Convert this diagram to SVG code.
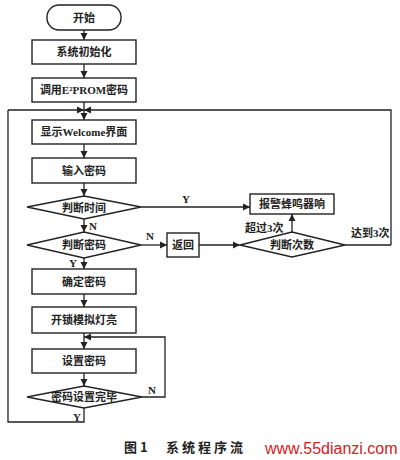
<svg xmlns="http://www.w3.org/2000/svg" width="400" height="460" viewBox="0 0 400 460">
<defs>
<marker id="ah" markerWidth="8" markerHeight="8" refX="7" refY="4" orient="auto" markerUnits="userSpaceOnUse">
<path d="M0,0.5 L7,4 L0,7.5 Z" fill="#222"/>
</marker>
<style>
.n{fill:#fff;stroke:#222;stroke-width:1.4}
.t{font-family:"Liberation Serif","Noto Sans CJK SC",serif;font-size:11px;font-weight:bold;fill:#222;text-anchor:middle;dominant-baseline:central}
.l{font-family:"Liberation Serif","Noto Sans CJK SC",serif;font-size:11px;font-weight:bold;fill:#222}
.c{fill:none;stroke:#222;stroke-width:1.3}
</style>
</defs>
<rect width="400" height="460" fill="#fff"/>
<g id="connectors">
<path class="c" d="M84,30 V40" marker-end="url(#ah)"/>
<path class="c" d="M84,64 V78" marker-end="url(#ah)"/>
<path class="c" d="M84,102 V120" marker-end="url(#ah)"/>
<path class="c" d="M8,110 H84" marker-end="url(#ah)"/>
<path class="c" d="M391,245 V110 H84" marker-end="url(#ah)"/>
<path class="c" d="M84,144 V158" marker-end="url(#ah)"/>
<path class="c" d="M84,183 V196" marker-end="url(#ah)"/>
<path class="c" d="M141,207 H250" marker-end="url(#ah)"/>
<path class="c" d="M84,219 V232" marker-end="url(#ah)"/>
<path class="c" d="M141,245 H167" marker-end="url(#ah)"/>
<path class="c" d="M199,245 H240" marker-end="url(#ah)"/>
<path class="c" d="M292,232 V214" marker-end="url(#ah)"/>
<path class="c" d="M345,245 H391"/>
<path class="c" d="M84,258 V269" marker-end="url(#ah)"/>
<path class="c" d="M84,294 V307" marker-end="url(#ah)"/>
<path class="c" d="M84,333 V349" marker-end="url(#ah)"/>
<path class="c" d="M142,397 H165 V337 H84" marker-end="url(#ah)"/>
<path class="c" d="M84,373 V386" marker-end="url(#ah)"/>
<path class="c" d="M84,408 V422 H8 V110"/>
<text class="l" x="182" y="203">Y</text>
<text class="l" x="89" y="230">N</text>
<text class="l" x="146" y="240">N</text>
<text class="l" x="69" y="267">Y</text>
<text class="l" x="245" y="232">超过3次</text>
<text class="l" x="351" y="237">达到3次</text>
<text class="l" x="148" y="394">N</text>
<text class="l" x="73" y="421">Y</text>
</g>
<g id="start"><rect class="n" x="47" y="5" width="74" height="25" rx="12"/><text class="t" x="84" y="17.5">开始</text></g>
<g id="init"><rect class="n" x="32" y="40" width="104" height="24"/><text class="t" x="84" y="52">系统初始化</text></g>
<g id="eeprom"><rect class="n" x="32" y="78" width="104" height="24"/><text class="t" x="84" y="90">调用E²PROM密码</text></g>
<g id="welcome"><rect class="n" x="32" y="120" width="104" height="24"/><text class="t" x="84" y="132">显示Welcome界面</text></g>
<g id="input"><rect class="n" x="32" y="158" width="104" height="25"/><text class="t" x="84" y="170.5">输入密码</text></g>
<g id="judgeTime"><polygon class="n" points="27,207 84,196 141,207 84,219"/><text class="t" x="84" y="207.5">判断时间</text></g>
<g id="judgePwd"><polygon class="n" points="27,245 84,232 141,245 84,258"/><text class="t" x="84" y="245">判断密码</text></g>
<g id="return"><rect class="n" x="167" y="233" width="32" height="24"/><text class="t" x="183" y="245">返回</text></g>
<g id="alarm"><rect class="n" x="250" y="194" width="84" height="20"/><text class="t" x="292" y="204">报警蜂鸣器响</text></g>
<g id="judgeCount"><polygon class="n" points="240,245 292,232 345,245 292,257"/><text class="t" x="292" y="245">判断次数</text></g>
<g id="confirm"><rect class="n" x="32" y="269" width="104" height="25"/><text class="t" x="84" y="281.5">确定密码</text></g>
<g id="unlock"><rect class="n" x="32" y="307" width="104" height="26"/><text class="t" x="84" y="320">开锁模拟灯亮</text></g>
<g id="setPwd"><rect class="n" x="32" y="349" width="104" height="24"/><text class="t" x="84" y="361">设置密码</text></g>
<g id="setDone"><polygon class="n" points="27,397 84,386 142,397 84,408"/><text class="t" x="84" y="397">密码设置完毕</text></g>
<text x="124" y="452" font-family="'Noto Sans CJK SC',sans-serif" font-size="13" font-weight="bold" fill="#222">图 1</text>
<text x="166" y="452" font-family="'Noto Sans CJK SC',sans-serif" font-size="13" font-weight="bold" fill="#222" letter-spacing="3">系统程序流</text>
<text x="265" y="454" font-family="'Liberation Sans',sans-serif" font-size="16" fill="#d42020">www.55dianzi.com</text>
</svg>
